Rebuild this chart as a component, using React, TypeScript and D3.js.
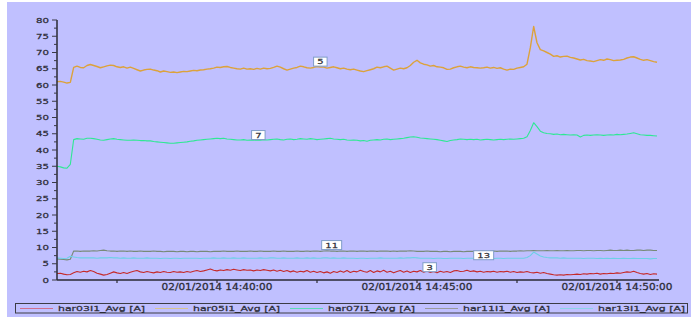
import React from "react";
import * as d3 from "d3";

// Samples every 5 s starting at 14:36:00
const startTime = new Date(2014, 1, 1, 14, 36, 0);
const sampleStepSec = 5;

const har03 = [
  2.0, 2.1, 1.8, 1.6, 1.7, 2.2, 2.6, 2.4, 2.7, 2.5,
  2.9, 2.6, 2.1, 1.8, 1.5, 1.7, 2.1, 2.5, 2.2, 2.0,
  2.3, 2.0, 2.4, 2.7, 2.9, 2.5, 2.3, 2.6, 2.4, 2.2,
  2.5, 2.3, 2.6, 2.4, 2.3, 2.6, 2.4, 2.5, 2.3, 2.6,
  2.4, 2.7, 2.9, 2.6, 2.8, 3.1, 3.4, 3.0, 2.8, 3.1,
  2.9, 3.2, 3.0, 3.3, 3.1, 2.9, 3.2, 3.0, 3.1, 2.8,
  3.1, 2.9, 3.2, 3.0, 2.8, 3.1, 2.7, 3.0, 2.6, 2.9,
  2.5, 2.8, 2.4, 2.7, 2.5, 2.9, 2.4, 2.7, 2.3, 2.6,
  2.2, 2.5, 2.1, 2.6, 2.3, 2.8, 2.4, 2.9, 2.3, 2.7,
  2.5, 3.0, 2.6, 2.4, 2.9, 2.3, 2.8, 2.5, 3.0, 2.4,
  2.7, 2.2, 2.6, 2.9, 2.4, 2.8, 2.3, 2.7, 2.5, 2.9,
  2.4, 2.8, 2.3, 2.6, 2.2, 2.7, 2.4, 2.6, 2.3, 2.8,
  2.9, 2.6, 2.7, 3.0, 2.6, 2.8, 2.5, 2.7, 2.4, 2.6,
  2.5, 2.7, 2.4, 2.6, 2.5, 2.7, 2.4, 2.6, 2.3, 2.5,
  2.4, 2.6, 2.3, 2.2, 2.4, 2.1, 2.3, 2.0, 1.8, 1.6,
  1.5, 1.6, 1.5, 1.7, 1.6, 1.7, 1.8, 1.7, 1.9, 1.8,
  2.0, 1.9, 2.1, 1.8, 2.0, 1.9, 2.1, 2.0, 2.2, 2.1,
  2.3, 2.5, 2.4, 2.7, 2.3, 2.0, 1.8, 2.0, 1.7, 1.9,
  1.8,
];

const har05 = [
  61.0, 61.1, 60.9, 60.6, 60.8, 65.4, 65.8, 65.4, 65.3, 66.0,
  66.3, 66.0, 65.7, 65.3, 65.6, 65.9, 66.1, 66.0, 65.6, 65.4,
  65.6, 65.2, 65.5, 65.1, 64.7, 64.3, 64.6, 64.8, 64.9, 64.6,
  64.4, 64.0, 64.3, 64.1, 63.9, 64.0, 63.8, 64.0, 64.2, 64.1,
  64.3, 64.5, 64.4, 64.6, 64.7, 64.9, 65.0, 65.2, 65.5, 65.4,
  65.6, 65.7, 65.4, 65.2, 65.0, 64.9, 65.2, 64.9, 65.0, 64.8,
  65.1, 64.9, 65.2, 65.0, 65.1, 65.4, 65.8, 65.5, 65.0, 64.6,
  64.9, 65.2, 65.4, 65.8, 65.6, 65.3, 65.2, 65.4, 65.7, 65.5,
  65.5, 65.2, 65.4, 65.6, 65.3, 65.0, 65.2, 64.9, 64.7, 64.9,
  64.6, 64.3, 64.1, 64.4, 64.7, 65.0, 65.5, 65.3, 65.6, 65.8,
  65.2, 64.6, 64.9, 65.2, 65.0, 65.3, 66.0, 67.0, 67.6, 66.8,
  66.4, 66.2, 65.8, 66.0, 65.6, 65.5, 65.3, 64.8, 64.9, 65.3,
  65.6, 65.8, 65.5, 65.3, 65.6, 65.4, 65.3, 65.2, 65.3, 65.5,
  65.2, 65.4, 65.1, 65.3, 64.9, 64.6, 64.9, 64.8, 65.2, 65.4,
  65.6, 66.4, 71.5, 78.0, 73.0, 70.9, 70.5, 70.0, 69.5, 68.8,
  69.0, 68.6, 68.8, 68.9, 68.5, 68.3, 68.0, 67.7, 67.9, 67.5,
  67.4, 67.2, 67.5, 67.8, 67.6, 68.0, 67.8, 67.5, 67.6, 67.7,
  67.9, 68.3, 68.6, 68.7, 68.3, 67.9, 67.6, 67.8, 67.5, 67.2,
  67.0,
];

const har07 = [
  35.0, 34.8, 34.5, 34.4, 35.6, 43.2, 43.5, 43.4, 43.3, 43.6,
  43.6, 43.5, 43.3, 43.1, 43.0, 43.2, 43.4, 43.5, 43.3, 43.2,
  43.1, 43.0, 43.0, 43.1, 43.0, 42.9, 42.9, 42.8, 42.8, 42.6,
  42.5, 42.4, 42.3, 42.2, 42.1, 42.1, 42.2, 42.3, 42.4, 42.5,
  42.7, 42.8, 43.0, 43.1, 43.2, 43.3, 43.4, 43.5, 43.6, 43.5,
  43.6, 43.4, 43.3, 43.2, 43.1, 43.1, 43.2, 43.0, 43.1, 43.0,
  43.1, 43.0, 43.2, 43.1, 43.2, 43.3, 43.4, 43.2, 43.1, 43.3,
  43.4, 43.2, 43.3, 43.5, 43.4, 43.3, 43.5, 43.4, 43.2, 43.3,
  43.4, 43.5, 43.6, 43.4, 43.3, 43.2, 43.3, 43.1, 43.0, 43.1,
  43.0, 42.8, 42.9, 42.7, 43.0, 43.1, 43.2, 43.1, 43.3, 43.4,
  43.2, 43.3, 43.4, 43.5, 43.6, 43.8, 44.0, 44.1, 43.9, 43.7,
  43.6, 43.5, 43.4, 43.3, 43.2, 43.0, 42.8, 42.6, 42.9, 43.1,
  43.2, 43.4, 43.3, 43.2, 43.3, 43.2, 43.3, 43.1, 43.2, 43.3,
  43.2, 43.1, 43.2, 43.3, 43.2, 43.3, 43.4, 43.3, 43.4, 43.5,
  43.6, 44.1, 46.0, 48.4, 47.2, 45.8, 45.3, 45.1, 45.0, 44.8,
  44.9, 44.7, 44.8, 44.7, 44.6, 44.7, 44.6, 44.0, 44.5, 44.6,
  44.5, 44.6, 44.7, 44.6, 44.5, 44.6, 44.7, 44.6, 44.8, 44.7,
  44.8, 44.9, 45.1, 45.3, 45.0, 44.7, 44.6, 44.5, 44.5, 44.4,
  44.3,
];

const har11 = [
  6.5, 6.4, 6.3, 6.2, 6.4, 8.9, 8.9, 8.8, 8.9, 8.9,
  8.9, 9.0, 8.9, 9.1, 9.2, 9.0, 8.9, 8.9, 8.8, 8.9,
  8.9, 8.8, 8.9, 8.8, 8.8, 8.9, 8.8, 8.8, 8.8, 8.9,
  8.8, 8.8, 8.7, 8.8, 8.8, 8.8, 8.7, 8.8, 8.8, 8.7,
  8.8, 8.8, 8.7, 8.8, 8.8, 8.8, 8.7, 8.8, 8.8, 8.8,
  8.9, 8.8, 8.8, 8.8, 8.9, 8.8, 8.8, 8.8, 8.9, 8.8,
  8.8, 8.9, 8.8, 8.8, 8.8, 8.9, 8.8, 8.8, 8.9, 8.8,
  8.8, 8.8, 8.9, 8.8, 8.8, 8.9, 8.8, 8.9, 8.9, 8.8,
  8.9, 9.0, 8.9, 8.9, 8.8, 8.9, 8.9, 8.8, 8.9, 8.9,
  8.8, 8.9, 8.9, 8.8, 8.9, 8.9, 8.8, 8.9, 8.9, 8.9,
  8.8, 8.9, 8.8, 8.9, 8.9, 8.9, 9.0, 8.9, 8.8, 8.8,
  8.8, 8.9, 8.8, 8.8, 8.8, 8.7, 8.8, 8.8, 8.7, 8.8,
  8.8, 8.8, 8.7, 8.8, 8.8, 8.8, 8.8, 8.8, 8.9, 8.8,
  8.8, 8.9, 8.8, 8.9, 8.9, 8.9, 8.8, 8.9, 8.9, 9.0,
  8.9, 9.0, 9.0, 9.1, 9.0, 9.0, 9.0, 9.1, 9.0, 9.0,
  9.1, 9.0, 9.0, 9.1, 9.0, 9.0, 9.1, 9.1, 9.0, 9.1,
  9.1, 9.0, 9.1, 9.1, 9.0, 9.1, 9.2, 9.1, 9.1, 9.2,
  9.1, 9.2, 9.1, 9.1, 9.2, 9.2, 9.1, 9.2, 9.2, 9.1,
  9.1,
];

const har13 = [
  6.8, 6.7, 6.6, 6.7, 7.3, 7.1, 6.9, 6.8, 6.8, 6.8,
  6.8, 6.8, 6.7, 6.8, 6.8, 6.8, 6.9, 6.8, 6.8, 6.7,
  6.8, 6.7, 6.7, 6.8, 6.7, 6.7, 6.7, 6.8, 6.7, 6.7,
  6.7, 6.6, 6.7, 6.7, 6.6, 6.7, 6.7, 6.6, 6.7, 6.7,
  6.7, 6.7, 6.7, 6.6, 6.7, 6.7, 6.7, 6.8, 6.7, 6.7,
  6.8, 6.7, 6.7, 6.8, 6.7, 6.7, 6.8, 6.7, 6.7, 6.7,
  6.7, 6.8, 6.7, 6.7, 6.8, 6.8, 6.7, 6.7, 6.8, 6.7,
  6.7, 6.7, 6.8, 6.7, 6.7, 6.8, 6.7, 6.8, 6.7, 6.7,
  6.8, 6.8, 6.7, 6.8, 6.7, 6.7, 6.8, 6.7, 6.7, 6.7,
  6.6, 6.7, 6.7, 6.6, 6.7, 6.7, 6.7, 6.8, 6.7, 6.7,
  6.7, 6.7, 6.7, 6.8, 6.7, 6.8, 6.8, 6.9, 6.8, 6.7,
  6.7, 6.7, 6.7, 6.6, 6.7, 6.7, 6.6, 6.6, 6.7, 6.7,
  6.7, 6.7, 6.6, 6.7, 6.7, 6.7, 6.7, 6.6, 6.7, 6.7,
  6.7, 6.6, 6.7, 6.7, 6.6, 6.7, 6.7, 6.7, 6.7, 6.7,
  6.7, 6.9, 7.5, 8.6, 8.0, 7.4, 7.1, 6.9, 6.8, 6.8,
  6.8, 6.7, 6.8, 6.7, 6.7, 6.7, 6.7, 6.7, 6.6, 6.7,
  6.7, 6.7, 6.6, 6.7, 6.6, 6.7, 6.6, 6.7, 6.6, 6.6,
  6.7, 6.6, 6.6, 6.7, 6.6, 6.6, 6.6, 6.6, 6.5, 6.6,
  6.6,
];

const seriesValues = [har03, har05, har07, har11, har13];
const seriesNames = ["har03I1_Avg [A]", "har05I1_Avg [A]", "har07I1_Avg [A]", "har11I1_Avg [A]", "har13I1_Avg [A]"];
const seriesColors = ["#c42a2a", "#dca23c", "#2ee894", "#788a78", "#6ed0e6"];
const legendColors = ["#d0708c", "#d8c48e", "#5cdcb4", "#9a9a9a", "#8cd4e6"];
const seriesTags = ["3", "5", "7", "11", "13"];
// seconds after start where each tag box sits
const tagTimesSec = [559, 395, 302, 412, 640];
const tagLift = [5, 5.5, 5, 6, 3];

const yTicks = [0, 5, 10, 15, 20, 25, 30, 35, 40, 45, 50, 55, 60, 65, 70, 75, 80];
const xLabelTimes = ["14:40:00", "14:45:00", "14:50:00"];
const endSec = 903;

const W = 691;
const H = 327;

function StretchText(props: {
  x: number; y: number; sx: number; size: number; anchor?: string; fill?: string; children: React.ReactNode;
}) {
  const { x, y, sx, size, anchor = "start", fill = "#2c2c36", children } = props;
  return (
    <text
      transform={`translate(${x},${y}) scale(${sx},1)`}
      fontSize={size}
      fontFamily="DejaVu Sans, sans-serif"
      textAnchor={anchor as any}
      fill={fill}
      stroke={fill}
      strokeWidth={0.25}
    >
      {children}
    </text>
  );
}

export default function App() {
  const t0 = startTime.getTime();
  const x = d3
    .scaleTime()
    .domain([startTime, new Date(t0 + endSec * 1000)])
    .range([57, 659]);
  const y = d3.scaleLinear().domain([0, 80]).range([280, 20]);

  const timeAt = (i: number) => new Date(t0 + i * sampleStepSec * 1000);
  const line = d3
    .line<number>()
    .x((_, i) => x(timeAt(i)))
    .y((v) => y(v));

  const fmt = d3.timeFormat("%m/%d/%Y %H:%M:%S");
  // ticks every 2.5 minutes
  const xTicks = d3.timeSecond
    .every(30)!
    .range(startTime, new Date(t0 + endSec * 1000))
    .filter((d) => (d.getMinutes() * 60 + d.getSeconds()) % 150 === 0);

  const yMinor = d3.range(0, 80.01, 2.5);

  const drawOrder = [1, 2, 3, 4, 0];

  const valueAt = (vals: number[], sec: number) => {
    const f = sec / sampleStepSec;
    const i = Math.floor(f);
    const r = f - i;
    const a = vals[Math.min(i, vals.length - 1)];
    const b = vals[Math.min(i + 1, vals.length - 1)];
    return a + (b - a) * r;
  };

  return (
    <svg width={W} height={H} style={{ position: "absolute", left: 0, top: 0 }}>
      <rect x={0} y={0} width={W} height={H} fill="#ffffff" />
      <rect x={7} y={2} width={W - 7} height={315} fill="#c0c0ff" />

      {/* series */}
      {drawOrder.map((k) => (
        <path
          key={k}
          d={line(seriesValues[k]) || ""}
          fill="none"
          stroke={seriesColors[k]}
          strokeWidth={k === 1 ? 1.4 : 1.1}
          strokeLinejoin="round"
        />
      ))}

      {/* y axis */}
      <line x1={57} x2={57} y1={y(80)} y2={y(0)} stroke="#2a2a33" strokeWidth={1.5} />
      {yMinor.map((v) => (
        <line
          key={v}
          x1={v % 5 === 0 ? 52 : 54}
          x2={57}
          y1={y(v)}
          y2={y(v)}
          stroke="#3a3a44"
          strokeWidth={1}
        />
      ))}
      {yTicks.map((v) => (
        <StretchText key={v} x={49} y={y(v) + 2.6} sx={1.42} size={7.2} anchor="end">
          {v}
        </StretchText>
      ))}

      {/* x axis */}
      <line x1={57} x2={659} y1={y(0)} y2={y(0)} stroke="#2a2a33" strokeWidth={1.5} />
      {xTicks.map((d) => (
        <line key={d.getTime()} x1={x(d)} x2={x(d)} y1={y(0)} y2={y(0) + 3} stroke="#2a2a33" strokeWidth={1.2} />
      ))}
      {xLabelTimes.map((s) => {
        const [hh, mm, ss] = s.split(":").map(Number);
        const d = new Date(startTime);
        d.setHours(hh, mm, ss);
        return (
          <StretchText key={s} x={x(d)} y={290} sx={1.25} size={8.4} anchor="middle">
            {fmt(d)}
          </StretchText>
        );
      })}

      {/* tag boxes */}
      {seriesTags.map((tag, k) => {
        const sec = tagTimesSec[k];
        const cx = x(new Date(t0 + sec * 1000));
        const cy = y(valueAt(seriesValues[k], sec)) - tagLift[k];
        const w = 7 + 6.5 * tag.length;
        return (
          <g key={tag}>
            <rect x={cx - w / 2} y={cy - 4.5} width={w} height={9} fill="#ffffff" stroke="#7f9cc8" strokeWidth={1} />
            <StretchText x={cx} y={cy + 2.7} sx={1.35} size={7.4} anchor="middle" fill="#303038">
              {tag}
            </StretchText>
          </g>
        );
      })}

      {/* legend */}
      <rect x={15.5} y={303.5} width={672} height={9.5} fill="none" stroke="#3c3c44" strokeWidth={1} />
      {seriesNames.map((name, k) => {
        const lx = 20 + 135 * k;
        return (
          <g key={name}>
            <line x1={lx} x2={lx + 33} y1={308.5} y2={308.5} stroke={legendColors[k]} strokeWidth={1} />
            <StretchText x={lx + 38} y={311.3} sx={1.4} size={7.8}>
              {name}
            </StretchText>
          </g>
        );
      })}
    </svg>
  );
}
